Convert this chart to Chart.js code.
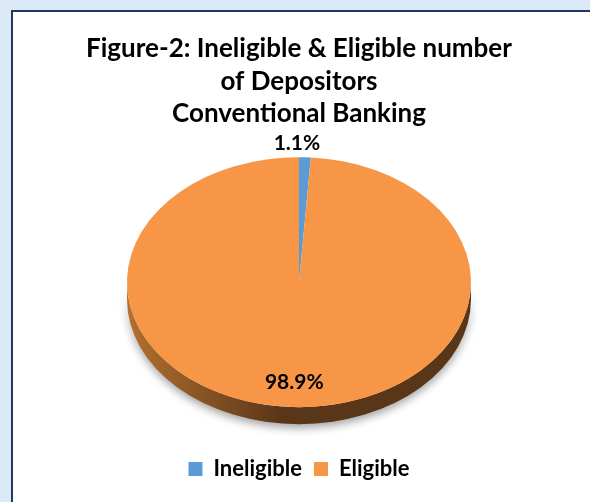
<!DOCTYPE html>
<html>
<head>
<meta charset="utf-8">
<script src="https://cdn.jsdelivr.net/npm/chart.js@4.4.1/dist/chart.umd.min.js"></script>
<style>
  html, body { margin: 0; padding: 0; }
  body { width: 590px; height: 502px; background: #dce9f6; position: relative; overflow: hidden; }
  #frame { position: absolute; left: 11px; top: 10px; width: 600px; height: 600px; border: 2px solid #1f3864; background: #fff; }
  #chart { position: absolute; left: 0; top: 0; }
</style>
</head>
<body>
<div id="frame"></div>
<canvas id="chart" width="590" height="502"></canvas>
<script>
const titleLines = ["Figure-2: Ineligible & Eligible number", "of Depositors", "Conventional Banking"];
const categories = ["Ineligible", "Eligible"];
const shares = [1.1, 98.9];
const topColors = ["#5b9bd5", "#f79646"];
const wallColors = [["#4a80b3", "#2b4a6b"], ["#b3702f", "#5a3618"]];

// the pie top is squashed into an ellipse this wide/high, with a wall DEPTH px thick
const PIE_RX = 172;
const PIE_RY = 125;
const DEPTH = 17;
const FONT = "Lato, 'Open Sans', sans-serif";

function toEllipse(ctx, arc) {
  const sx = PIE_RX / arc.outerRadius;
  const sy = PIE_RY / arc.outerRadius;
  ctx.translate(arc.x, arc.y);
  ctx.scale(sx, sy);
  ctx.translate(-arc.x, -arc.y);
}

// Only the front half (0..PI) of each slice shows its wall
function frontRanges(start, end) {
  const out = [];
  [0, Math.PI * 2].forEach((k) => {
    const lo = Math.max(start, k);
    const hi = Math.min(end, k + Math.PI);
    if (hi > lo) out.push([lo, hi]);
  });
  return out;
}

const pie3dPlugin = {
  id: "pie3dPlugin",
  beforeDatasetsDraw(chart) {
    const { ctx } = chart;
    const arcs = chart.getDatasetMeta(0).data;
    if (!arcs.length) return;
    const first = arcs[0];
    const d = DEPTH * first.outerRadius / PIE_RY;

    ctx.save();
    toEllipse(ctx, first);

    arcs.forEach((arc, i) => {
      const { x, y, startAngle, endAngle, outerRadius: r } = arc;
      frontRanges(startAngle, endAngle).forEach(([a, b]) => {
        const grad = ctx.createLinearGradient(x - r, 0, x + r, 0);
        grad.addColorStop(0, wallColors[i][0]);
        grad.addColorStop(0.45, wallColors[i][1]);
        grad.addColorStop(1, wallColors[i][1]);
        ctx.save();
        ctx.shadowColor = "rgba(0, 0, 0, 0.35)";
        ctx.shadowBlur = 9;
        ctx.shadowOffsetY = 4;
        ctx.beginPath();
        ctx.arc(x, y, r, a, b);
        ctx.arc(x, y + d, r, b, a, true);
        ctx.closePath();
        ctx.fillStyle = grad;
        ctx.fill();
        ctx.restore();
      });
    });
  },
  afterDatasetsDraw(chart) {
    const { ctx } = chart;
    const arcs = chart.getDatasetMeta(0).data;
    if (!arcs.length) return;
    ctx.restore();

    ctx.save();
    ctx.fillStyle = "#000";
    ctx.font = `bold 21px ${FONT}`;
    ctx.textAlign = "center";
    ctx.textBaseline = "middle";
    arcs.forEach((arc, i) => {
      const mid = (arc.startAngle + arc.endAngle) / 2;
      const small = shares[i] < 5;
      const f = small ? 1 : 0.8;
      let px = arc.x + PIE_RX * Math.cos(mid) * f;
      let py = arc.y + PIE_RY * Math.sin(mid) * f;
      if (small) {
        px -= 8;
        py += Math.sin(mid) < 0 ? -14 : 14;
      }
      ctx.fillText(shares[i].toFixed(1) + "%", px, py);
    });
    ctx.restore();
  },
};

const ctx = document.getElementById("chart").getContext("2d");
new Chart(ctx, {
  type: "pie",
  data: {
    labels: categories,
    datasets: [{
      data: shares,
      backgroundColor: topColors,
      borderWidth: 0,
      clip: false,
    }],
  },
  plugins: [pie3dPlugin],
  options: {
    responsive: false,
    animation: false,
    events: [],
    layout: {
      padding: { top: 0, right: 0, bottom: 12, left: 8 },
    },
    plugins: {
      title: {
        display: true,
        text: titleLines,
        color: "#000",
        font: { family: FONT, size: 26, weight: "bold", lineHeight: 1.26 },
        padding: { top: 32, bottom: -12 },
      },
      legend: {
        position: "bottom",
        labels: {
          color: "#000",
          boxWidth: 14,
          boxHeight: 14,
          padding: 12,
          font: { family: FONT, size: 22, weight: "bold" },
        },
      },
      tooltip: { enabled: false },
    },
  },
});
</script>
</body>
</html>
